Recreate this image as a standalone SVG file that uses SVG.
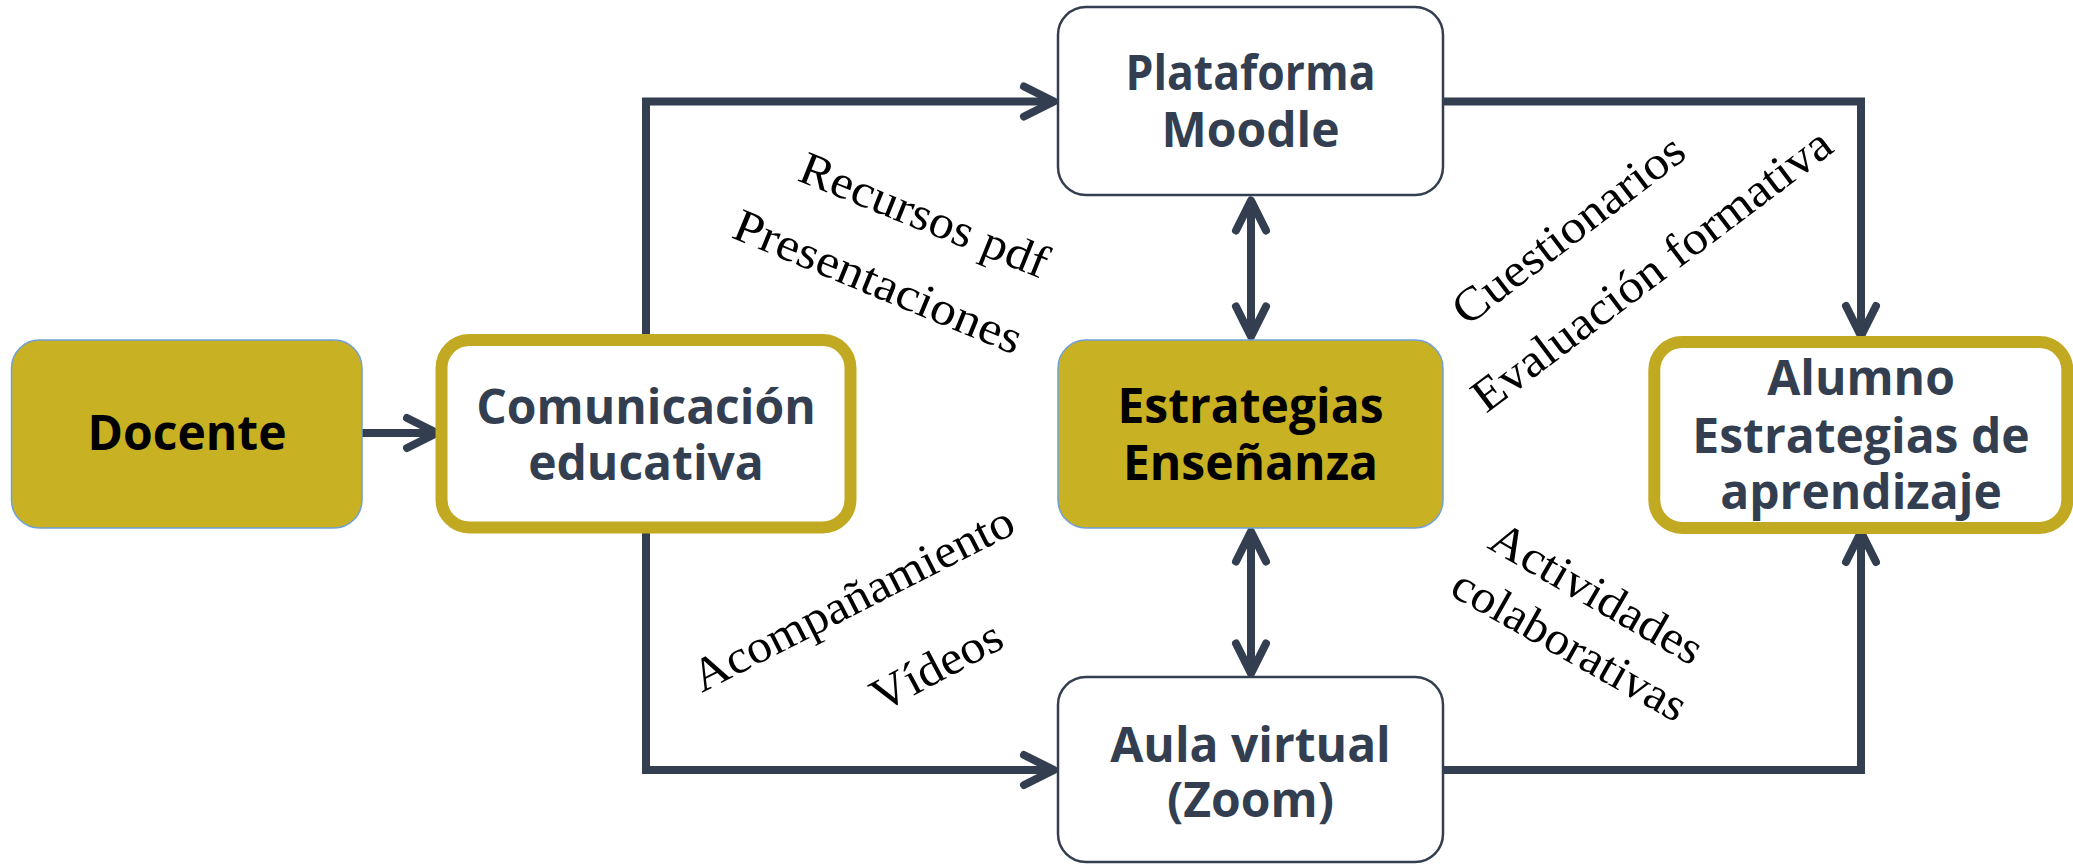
<svg xmlns="http://www.w3.org/2000/svg" width="2073" height="865" viewBox="0 0 2073 865">
<defs>
<style>
.gold{fill:#C9B124;stroke:#6FA0D8;stroke-width:1.5}
.white{fill:#FFFFFF;stroke:#333F50;stroke-width:2.5}
.ring{fill:#FFFFFF;stroke:#C2A922;stroke-width:12}
.nt{font-family:"Open Sans","Liberation Sans",sans-serif;font-weight:700;font-size:48px;text-anchor:middle}
.dark{fill:#333F50}
.blk{fill:#000000}
.lbl{font-family:"Liberation Serif","DejaVu Serif",serif;font-size:47px;fill:#000000}
.conn{fill:none;stroke:#333F50;stroke-width:8;stroke-linejoin:miter}
</style>
<marker id="arr" markerUnits="userSpaceOnUse" markerWidth="48" markerHeight="48" viewBox="-40 -24 48 48" refX="0" refY="0" orient="auto-start-reverse" overflow="visible">
<path d="M-30,-15 L0,0 L-30,15" fill="none" stroke="#333F50" stroke-width="8" stroke-linecap="round" stroke-linejoin="round"/>
</marker>
</defs>
<rect width="2073" height="865" fill="#FFFFFF"/>

<g id="connectors">
<path class="conn" d="M362,433 H437" marker-end="url(#arr)"/>
<path class="conn" d="M646,334 V101.5 H1054" marker-end="url(#arr)"/>
<path class="conn" d="M646,533 V770 H1054" marker-end="url(#arr)"/>
<path class="conn" d="M1443,101.5 H1861 V336" marker-end="url(#arr)"/>
<path class="conn" d="M1443,770 H1861 V532" marker-end="url(#arr)"/>
<path class="conn" d="M1251,200.5 V336.5" marker-start="url(#arr)" marker-end="url(#arr)"/>
<path class="conn" d="M1251,531.5 V673.5" marker-start="url(#arr)" marker-end="url(#arr)"/>
</g>

<g id="docente">
<rect class="gold" x="11.5" y="340" width="350.5" height="188" rx="28"/>
<text class="nt blk" x="187" y="450">Docente</text>
</g>

<g id="comunicacion">
<rect class="ring" x="441.5" y="340" width="409" height="187.5" rx="28"/>
<text class="nt dark" x="646" y="424">Comunicación</text>
<text class="nt dark" x="646" y="480">educativa</text>
</g>

<g id="plataforma">
<rect class="white" x="1058" y="7" width="385" height="188" rx="28"/>
<text class="nt dark" x="1250.5" y="90" textLength="250" lengthAdjust="spacingAndGlyphs">Plataforma</text>
<text class="nt dark" x="1250.5" y="147">Moodle</text>
</g>

<g id="estrategias">
<rect class="gold" x="1058" y="340" width="385" height="188" rx="28"/>
<text class="nt blk" x="1250.5" y="422.5">Estrategias</text>
<text class="nt blk" x="1250.5" y="480">Enseñanza</text>
</g>

<g id="aula">
<rect class="white" x="1058" y="677" width="385" height="185" rx="28"/>
<text class="nt dark" x="1250.5" y="762">Aula virtual</text>
<text class="nt dark" x="1250.5" y="817">(Zoom)</text>
</g>

<g id="alumno">
<rect class="ring" x="1654.3" y="342" width="413" height="186" rx="28"/>
<text class="nt dark" x="1861" y="395">Alumno</text>
<text class="nt dark" x="1861" y="452.5">Estrategias de</text>
<text class="nt dark" x="1861" y="508.5">aprendizaje</text>
</g>

<g id="labels">
<text class="lbl" transform="translate(796,180) rotate(22)" textLength="264" lengthAdjust="spacingAndGlyphs">Recursos pdf</text>
<text class="lbl" transform="translate(730,237) rotate(22.5)" textLength="308" lengthAdjust="spacingAndGlyphs">Presentaciones</text>
<text class="lbl" transform="translate(701.7,693) rotate(-27)" textLength="355" lengthAdjust="spacingAndGlyphs">Acompañamiento</text>
<text class="lbl" transform="translate(881,713) rotate(-28)" textLength="142" lengthAdjust="spacingAndGlyphs">Vídeos</text>
<text class="lbl" transform="translate(1466.7,327) rotate(-37.5)" textLength="280" lengthAdjust="spacingAndGlyphs">Cuestionarios</text>
<text class="lbl" transform="translate(1486,414) rotate(-37)" textLength="438" lengthAdjust="spacingAndGlyphs">Evaluación formativa</text>
<text class="lbl" transform="translate(1486,547.3) rotate(30)" textLength="238" lengthAdjust="spacingAndGlyphs">Actividades</text>
<text class="lbl" transform="translate(1448,594) rotate(29.5)" textLength="262" lengthAdjust="spacingAndGlyphs">colaborativas</text>
</g>
</svg>
